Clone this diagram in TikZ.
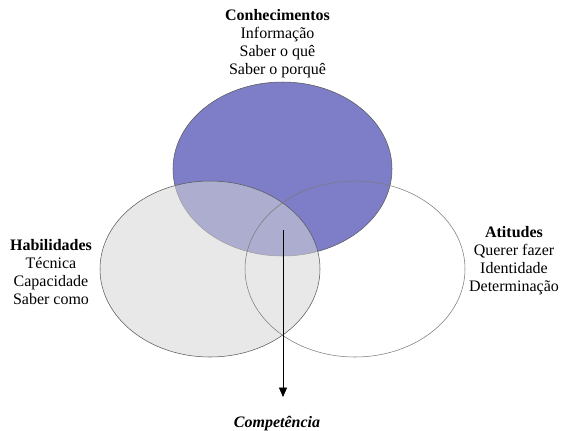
\documentclass[tikz,border=0pt]{standalone}
\usepackage{fontspec}
\setmainfont{Liberation Serif}
\usetikzlibrary{arrows.meta}

\definecolor{conhecimentocolor}{RGB}{125,125,200}
\definecolor{habilidadecolor}{RGB}{214,214,214}
\definecolor{bordercolor}{RGB}{90,90,90}

\begin{document}
\begin{tikzpicture}[x=0.75pt,y=-0.75pt,
    label text/.style={align=center,font=\fontsize{12}{13.5}\selectfont}]
      % Page frame
      \useasboundingbox (0,0) rectangle (561,430);

      % Three overlapping sets
      \filldraw[fill=conhecimentocolor,draw=bordercolor] (282.5,169) ellipse (109.5 and 87);
      \filldraw[fill=habilidadecolor,fill opacity=0.55,draw=bordercolor] (210,269) ellipse (110 and 88);
      \draw[draw=bordercolor!80] (355,269) ellipse (110 and 88);

      % Labels of the sets
      \node[label text] (conhecimentos) at (277.5,44)
        {\textbf{Conhecimentos}\\Informação\\Saber o quê\\Saber o porquê};
      \node[label text] (habilidades) at (51,272)
        {\textbf{Habilidades}\\Técnica\\Capacidade\\Saber como};
      \node[label text] (atitudes) at (514,261)
        {\textbf{Atitudes}\\Querer fazer\\Identidade\\Determinação};

      % Result of the intersection
      \coordinate (centro) at (283,230);
      \coordinate (ponta) at (283,397);
      \node[label text,font=\fontsize{12}{13.5}\selectfont\bfseries\itshape] (competencia) at (277,424) {Competência};
      \draw[-{Triangle[length=7pt,width=6pt]},thin] (centro) -- (ponta);
    \end{tikzpicture}
\end{document}
